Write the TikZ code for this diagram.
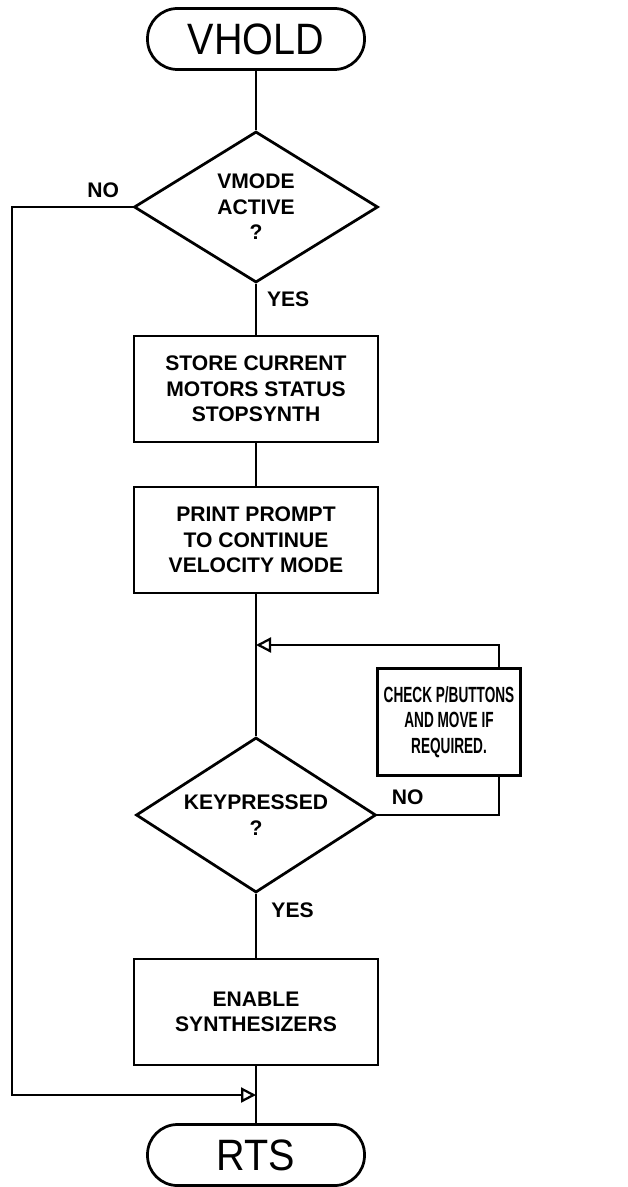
\documentclass[tikz,border=0pt]{standalone}
\usepackage{fontspec}
\setmainfont{Liberation Sans}
\newfontfamily\narrowfont[FakeStretch=0.62]{Liberation Sans}
\newfontfamily\termfont[FakeStretch=0.9]{Liberation Sans}
\usetikzlibrary{arrows.meta,positioning,calc,shapes.geometric}

\begin{document}
\begin{tikzpicture}[
    x=0.2mm, y=-0.2mm,
    line width=0.55mm,
    term/.style={draw, rounded corners=6mm, minimum width=43.4mm, minimum height=12.2mm, font=\termfont\fontsize{25}{28}\selectfont},
    box/.style={draw, minimum width=48.8mm, minimum height=21.2mm, align=center, inner sep=1pt, font=\bfseries\fontsize{12}{14.5}\selectfont},
    checkbox/.style={draw, minimum width=28.6mm, minimum height=21.4mm, align=center, inner sep=1pt, font=\narrowfont\bfseries\fontsize{12.5}{14.5}\selectfont},
    decision/.style={draw, diamond, aspect=1.6, inner sep=0pt, align=center, font=\bfseries\fontsize{12}{14.5}\selectfont},
    lbl/.style={font=\bfseries\fontsize{12}{14}\selectfont, inner sep=0pt},
    wire/.style={line width=0.55mm},
    flow/.style={line width=0.55mm, -{Triangle[open, length=3mm, width=3mm, line width=0.45mm]}}
  ]
  \useasboundingbox (0,0) rectangle (627,1187);

  \node[term] (vhold) at (256,39) {VHOLD};
  \node[decision, minimum width=48.8mm, minimum height=30.2mm] (vmode) at (256,207) {VMODE\\ACTIVE\\?};
  \node[box] (store) at (256,389) {STORE CURRENT\\MOTORS STATUS\\STOPSYNTH};
  \node[box] (prompt) at (256,540) {PRINT PROMPT\\TO CONTINUE\\VELOCITY MODE};
  \node[checkbox] (check) at (449,722) {CHECK P/BUTTONS\\AND MOVE IF\\REQUIRED.};
  \node[decision, minimum width=48mm, minimum height=31mm] (keyp) at (256,815) {KEYPRESSED\\?};
  \node[box] (enable) at (256,1012) {ENABLE\\SYNTHESIZERS};
  \node[term] (rts) at (256,1155) {RTS};

  \coordinate (mergeA) at (256,645);
  \coordinate (mergeB) at (256,1095);
  \coordinate (loopR) at (499,815);
  \coordinate (leftX) at (12,1095);

  % main column
  \draw[wire] (vhold) -- (vmode);
  \draw[wire] (vmode) -- (store) node[lbl, pos=0.3, right=5.5pt] {YES};
  \draw[wire] (store) -- (prompt);
  \draw[wire] (prompt) -- (keyp);
  \draw[wire] (keyp) -- (enable) node[lbl, pos=0.26, right=8pt] {YES};
  \draw[wire] (enable) -- (rts);

  % wait loop through the buttons check
  \draw[wire] (keyp.east) -- (loopR) node[lbl, pos=0.25, above=5pt] {NO} -- (loopR |- check.south);
  \draw[flow] (loopR |- check.north) |- (mergeA);

  % skip when not active
  \draw[flow] (vmode.west) node[lbl, above left=4.6pt and 7pt] {NO} -| (leftX) -- (mergeB);
\end{tikzpicture}
\end{document}
